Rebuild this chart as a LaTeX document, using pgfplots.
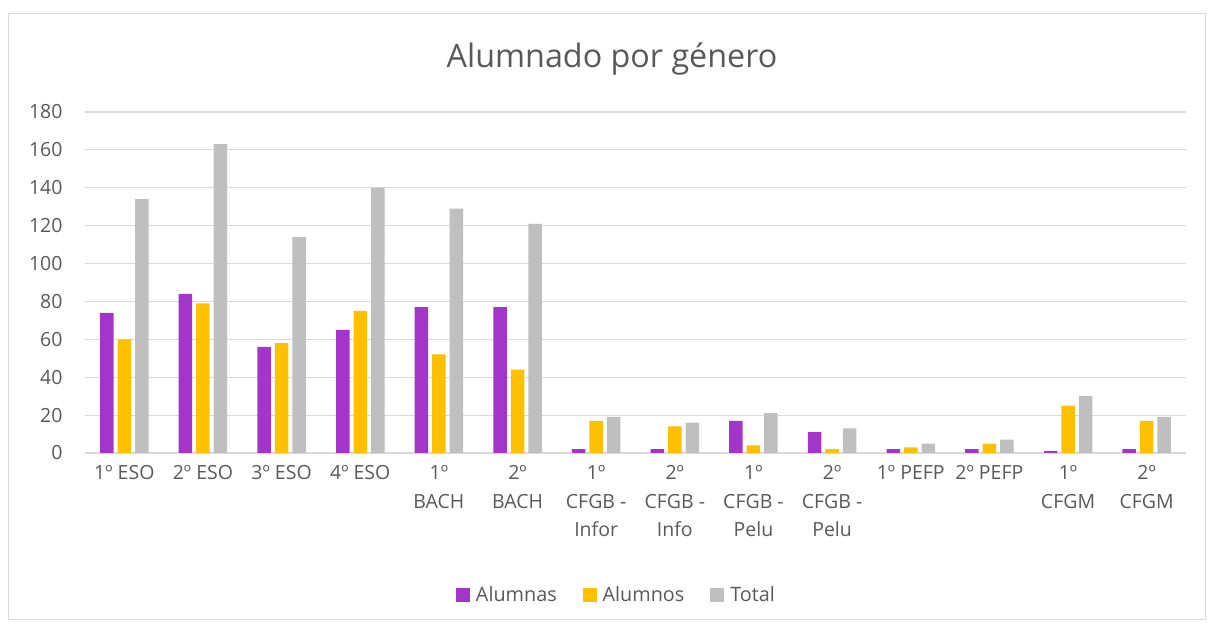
\documentclass[border=0pt]{standalone}
\usepackage{fontspec}
\setmainfont{Open Sans}
\usepackage{pgfplots}
\pgfplotsset{compat=1.18}
\definecolor{cpurple}{HTML}{A435CB}
\definecolor{cyellow}{HTML}{FFC000}
\definecolor{cgray}{HTML}{BFBFBF}
\definecolor{ctext}{HTML}{595959}
\definecolor{cgrid}{HTML}{D9D9D9}
\begin{document}
\begin{tikzpicture}[x=1pt,y=1pt]
\path[use as bounding box] (0,0) rectangle (1213,628);
\draw[cgrid, line width=1pt] (8,8) rectangle (1205,614);
\node[text=ctext, font=\fontsize{32.3}{37}\selectfont] at (612,569) {Alumnado por género};
\begin{axis}[
  at={(85pt,175pt)}, anchor=south west,
  scale only axis, width=1101pt, height=341pt,
  xmin=-0.5, xmax=13.5, ymin=0, ymax=180,
  ytick={0,20,...,180},
  xtick={0,...,13},
  xticklabels={{1º ESO},{2º ESO},{3º ESO},{4º ESO},{1º\\BACH},{2º\\BACH},{1º\\CFGB -\\Infor},{2º\\CFGB -\\Info},{1º\\CFGB -\\Pelu},{2º\\CFGB -\\Pelu},{1º PEFP},{2º PEFP},{1º\\CFGM},{2º\\CFGM}},
  /pgf/number format/assume math mode=true,
  ymajorgrids, major grid style={cgrid, line width=1.2pt},
  axis line style={draw=none},
  major tick length=0pt,
  tick label style={text=ctext, font=\fontsize{19.5}{28.5}\selectfont},
  xticklabel style={align=center, yshift=-9pt},
  yticklabel style={xshift=-19pt},
  ybar=4pt, bar width=13.5pt,
  legend columns=3,
  legend style={draw=none, at={(0.4827,-0.416)}, anchor=center, font=\fontsize{19.8}{24}\selectfont, text=ctext, /tikz/every even column/.append style={column sep=24pt}},
  legend image code/.code={\path (0pt,0pt) rectangle (18pt,0pt); \fill[#1] (0pt,-7pt) rectangle (14pt,7pt);},
]
\addplot[fill=cpurple, draw=none] coordinates {(0,74) (1,84) (2,56) (3,65) (4,77) (5,77) (6,2) (7,2) (8,17) (9,11) (10,2) (11,2) (12,1) (13,2)};
\addplot[fill=cyellow, draw=none] coordinates {(0,60) (1,79) (2,58) (3,75) (4,52) (5,44) (6,17) (7,14) (8,4) (9,2) (10,3) (11,5) (12,25) (13,17)};
\addplot[fill=cgray, draw=none] coordinates {(0,134) (1,163) (2,114) (3,140) (4,129) (5,121) (6,19) (7,16) (8,21) (9,13) (10,5) (11,7) (12,30) (13,19)};
\legend{Alumnas, Alumnos, Total}
\end{axis}
\end{tikzpicture}
\end{document}
